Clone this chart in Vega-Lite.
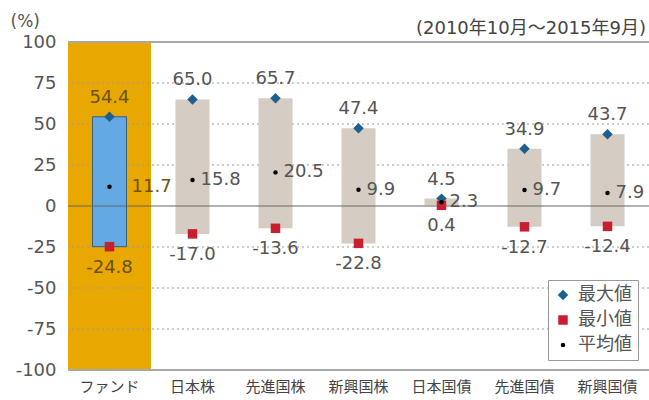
{
  "$schema": "https://vega.github.io/schema/vega-lite/v6.json",
  "width": 581,
  "height": 328,
  "autosize": {"type": "none"},
  "padding": {"left": 68, "top": 42, "right": 0, "bottom": 30},
  "config": {
    "font": "Noto Sans CJK JP",
    "view": {"stroke": null}
  },
  "title": {
    "text": "(2010年10月～2015年9月)",
    "anchor": "end",
    "font": "DejaVu Sans, Noto Sans CJK JP",
    "fontSize": 18,
    "fontWeight": "normal",
    "color": "#444",
    "offset": 6,
    "dx": -4,
    "dy": 32
  },
  "data": {
    "values": [
      {"cat": "ファンド", "max": 54.4, "min": -24.8, "mean": 11.7},
      {"cat": "日本株", "max": 65.0, "min": -17.0, "mean": 15.8},
      {"cat": "先進国株", "max": 65.7, "min": -13.6, "mean": 20.5},
      {"cat": "新興国株", "max": 47.4, "min": -22.8, "mean": 9.9},
      {"cat": "日本国債", "max": 4.5, "min": 0.4, "mean": 2.3},
      {"cat": "先進国債", "max": 34.9, "min": -12.7, "mean": 9.7},
      {"cat": "新興国債", "max": 43.7, "min": -12.4, "mean": 7.9}
    ]
  },
  "layer": [
    {
      "transform": [{"filter": "datum.cat === 'ファンド'"}],
      "mark": {"type": "bar", "color": "#E9A800", "width": {"band": 1}},
      "encoding": {
        "x": {"field": "cat", "type": "nominal", "sort": null,
          "scale": {"paddingInner": 0, "paddingOuter": 0},
          "axis": {"title": null, "labelAngle": 0, "labelFontSize": 15, "labelColor": "#444", "ticks": false, "domain": false, "labelPadding": 9}},
        "y": {"datum": 100, "type": "quantitative",
          "scale": {"domain": [-100, 100], "nice": false},
          "axis": {"values": [-100, -75, -50, -25, 0, 25, 50, 75, 100], "grid": false, "domain": false, "ticks": false,
            "labelExpr": "toString(datum.value)", "labelFont": "DejaVu Sans",
            "labelFontSize": 18, "labelColor": "#555", "labelPadding": 12,
            "title": "(%)", "titleFont": "DejaVu Sans", "titleAngle": 0, "titleAlign": "left", "titleBaseline": "middle", "titleX": -58, "titleY": -21, "titleFontSize": 17, "titleFontWeight": "normal", "titleColor": "#555"}},
        "y2": {"datum": -100}
      }
    },
    {
      "data": {"values": [{"g": 75}, {"g": 50}, {"g": 25}, {"g": -25}, {"g": -50}, {"g": -75}]},
      "mark": {"type": "rule", "color": "#9a9a9a", "strokeDash": [2, 3], "strokeWidth": 1},
      "encoding": {"y": {"field": "g", "type": "quantitative"}}
    },
    {
      "data": {"values": [{"g": 100}, {"g": -100}]},
      "mark": {"type": "rule", "color": "#a8a8a8", "strokeWidth": 2},
      "encoding": {"y": {"field": "g", "type": "quantitative"}}
    },
    {
      "mark": {"type": "bar", "width": {"band": 0.41}, "strokeWidth": 1},
      "encoding": {
        "x": {"field": "cat", "type": "nominal", "sort": null},
        "y": {"field": "min", "type": "quantitative"},
        "y2": {"field": "max"},
        "color": {"condition": {"test": "datum.cat === 'ファンド'", "value": "#63A9E3"}, "value": "#D5CCC4"},
        "stroke": {"condition": {"test": "datum.cat === 'ファンド'", "value": "#3E5E78"}, "value": null}
      }
    },
    {
      "data": {"values": [{"g": 0}]},
      "mark": {"type": "rule", "color": "#666", "strokeWidth": 1},
      "encoding": {"y": {"field": "g", "type": "quantitative"}}
    },
    {
      "transform": [{"fold": ["max", "min", "mean"], "as": ["type", "v"]}],
      "mark": {"type": "point", "filled": true, "opacity": 1},
      "encoding": {
        "x": {"field": "cat", "type": "nominal", "sort": null},
        "y": {"field": "v", "type": "quantitative"},
        "shape": {"field": "type", "type": "nominal",
          "scale": {"domain": ["max", "min", "mean"], "range": ["diamond", "square", "circle"]},
          "legend": {"title": null, "orient": "none", "legendX": 480, "legendY": 238,
            "labelExpr": "datum.label === 'max' ? '最大値' : datum.label === 'min' ? '最小値' : '平均値'",
            "labelFontSize": 18, "labelColor": "#555", "strokeColor": "#999", "padding": 6, "rowPadding": 7, "fillColor": "white", "symbolStrokeWidth": 0, "labelOffset": 6}},
        "color": {"field": "type", "type": "nominal",
          "scale": {"domain": ["max", "min", "mean"], "range": ["#1D5F8E", "#C62030", "#000000"]}},
        "size": {"field": "type", "type": "nominal",
          "scale": {"type": "ordinal", "domain": ["max", "min", "mean"], "range": [110, 90, 20]}}
      }
    },
    {
      "mark": {"type": "text", "dy": -19, "fontSize": 18, "font": "DejaVu Sans",
        "text": {"expr": "replace(format(datum.max, '.1f'), '\u2212', '-')"}},
      "encoding": {
        "x": {"field": "cat", "type": "nominal", "sort": null},
        "y": {"field": "max", "type": "quantitative"},
        "color": {"condition": {"test": "datum.cat === 'ファンド'", "value": "#6A5110"}, "value": "#555"}
      }
    },
    {
      "mark": {"type": "text", "dy": 21, "fontSize": 18, "font": "DejaVu Sans",
        "text": {"expr": "replace(format(datum.min, '.1f'), '\u2212', '-')"}},
      "encoding": {
        "x": {"field": "cat", "type": "nominal", "sort": null},
        "y": {"field": "min", "type": "quantitative"},
        "color": {"condition": {"test": "datum.cat === 'ファンド'", "value": "#6A5110"}, "value": "#555"}
      }
    },
    {
      "transform": [{"filter": "datum.cat !== 'ファンド'"}],
      "mark": {"type": "text", "dx": 8, "align": "left", "fontSize": 18, "font": "DejaVu Sans", "color": "#555"},
      "encoding": {
        "x": {"field": "cat", "type": "nominal", "sort": null},
        "y": {"field": "mean", "type": "quantitative"},
        "text": {"field": "mean", "type": "quantitative", "format": ".1f"}
      }
    },
    {
      "transform": [{"filter": "datum.cat === 'ファンド'"}],
      "mark": {"type": "text", "dx": 22, "align": "left", "fontSize": 18, "font": "DejaVu Sans", "color": "#6A5110"},
      "encoding": {
        "x": {"field": "cat", "type": "nominal", "sort": null},
        "y": {"field": "mean", "type": "quantitative"},
        "text": {"field": "mean", "type": "quantitative", "format": ".1f"}
      }
    }
  ]
}
